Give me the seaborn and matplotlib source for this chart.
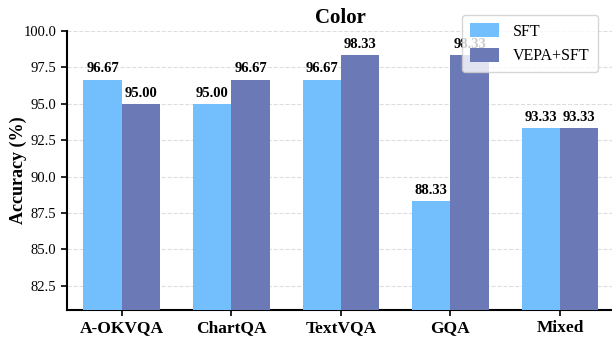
import matplotlib
matplotlib.use("Agg")
import matplotlib.pyplot as plt
import seaborn as sns
import pandas as pd

categories = ["A-OKVQA", "ChartQA", "TextVQA", "GQA", "Mixed"]
sft = [96.67, 95.00, 96.67, 88.33, 93.33]
vepa_sft = [95.00, 96.67, 98.33, 98.33, 93.33]
series_names = ["SFT", "VEPA+SFT"]
colors = ["#73BFFD", "#6C79B7"]

df = pd.DataFrame({
    "Dataset": categories * 2,
    "Accuracy": sft + vepa_sft,
    "Method": [series_names[0]] * len(categories) + [series_names[1]] * len(categories),
})

sns.set_style("white")
plt.rcParams["font.family"] = ["Liberation Serif", "DejaVu Serif"]
plt.rcParams["text.color"] = "black"
plt.rcParams["axes.labelcolor"] = "black"
plt.rcParams["xtick.color"] = "black"
plt.rcParams["ytick.color"] = "black"

fig = plt.figure(figsize=(6.12, 3.38), dpi=100)
ax = fig.add_axes([0.1095, 0.083, 0.895, 0.825])

sns.barplot(data=df, x="Dataset", y="Accuracy", hue="Method",
            palette=colors, width=0.7, saturation=1, linewidth=0,
            edgecolor="none", ax=ax, zorder=3)

for container in ax.containers:
    ax.bar_label(container, fmt="%.2f", padding=3, fontsize=10.5,
                 fontweight="bold", color="black", zorder=5)

ax.set_ylim(min(sft + vepa_sft) - 7.5, 100)
ax.set_yticks([82.5, 85.0, 87.5, 90.0, 92.5, 95.0, 97.5, 100.0])
ax.set_yticklabels([f"{v:.1f}" for v in ax.get_yticks()], fontsize=10.5)
ax.set_xticks(range(len(categories)))
ax.set_xticklabels(categories, fontsize=12.5, fontweight="bold")
ax.set_xlabel("")
ax.set_ylabel("Accuracy (%)", fontsize=13, fontweight="bold")
ax.yaxis.set_label_coords(-0.073, 0.5)
ax.set_title("Color", fontsize=15, fontweight="bold", pad=6, color="black")

ax.yaxis.grid(True, linestyle="--", color="#dddddd", linewidth=0.8, zorder=0)
ax.set_axisbelow(True)
for side in ["top", "right"]:
    ax.spines[side].set_visible(False)
for side in ["left", "bottom"]:
    ax.spines[side].set_linewidth(1.5)
    ax.spines[side].set_color("black")
ax.tick_params(axis="both", which="major", direction="out", length=4,
               width=1.2, color="black", bottom=True, left=True)

leg = ax.legend(loc="upper right", bbox_to_anchor=(0.969, 1.057),
                borderaxespad=0, fontsize=11.5, frameon=True, framealpha=0.8,
                handlelength=1.8, handleheight=1.0, handletextpad=0.9,
                borderpad=0.5)
leg.set_zorder(10)

fig.savefig("out.png", dpi=100)
